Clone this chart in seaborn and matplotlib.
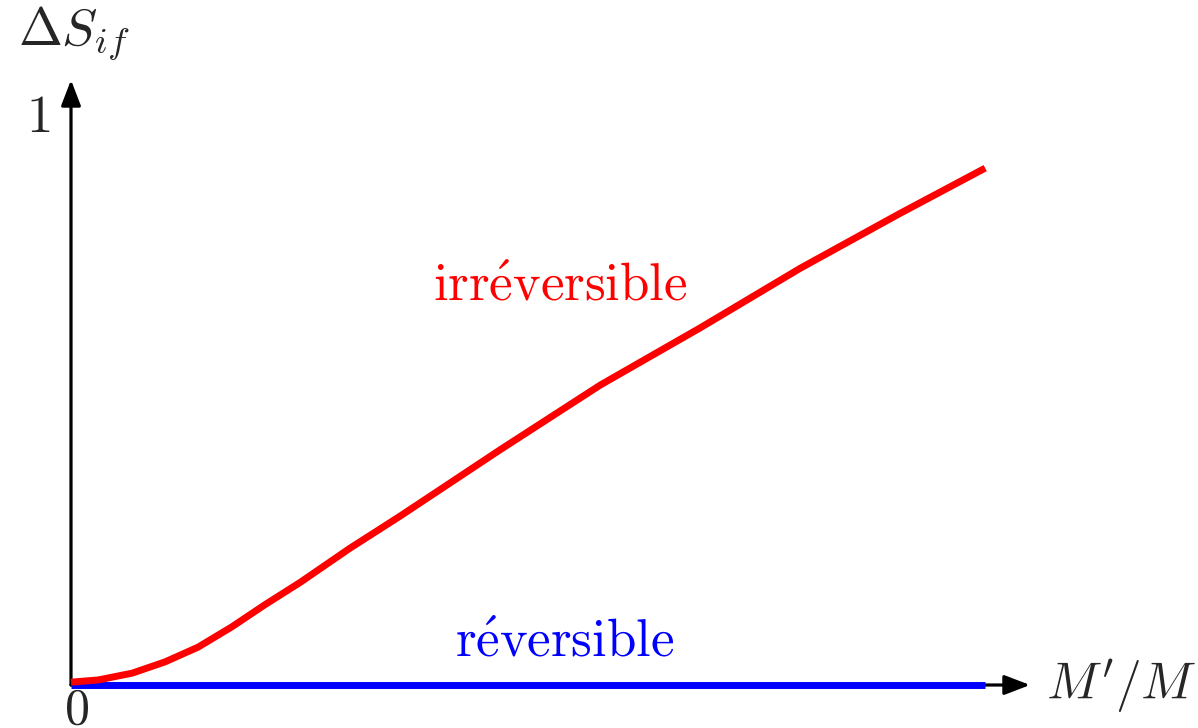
import matplotlib
matplotlib.use("Agg")
import matplotlib.pyplot as plt
import seaborn as sns
import pandas as pd

# Mass ratio M'/M and entropy change of the universe for each process
ratio = [0.0, 0.30, 0.67, 1.03, 1.39, 1.76, 2.12, 2.51, 3.05, 3.60, 4.15, 4.69,
         5.79, 6.88, 7.98, 9.07, 10.0]
ds_irreversible = [0.005, 0.009, 0.021, 0.041, 0.067, 0.103, 0.142, 0.182, 0.242,
                   0.299, 0.358, 0.416, 0.531, 0.632, 0.738, 0.835, 0.915]
ds_reversible = [0.0] * len(ratio)

x_label = r"$M'/M$"
y_label = r"$\Delta S_{if}$"
label_irr = r"$\mathrm{irr\acute{e}versible}$"
label_rev = r"$\mathrm{r\acute{e}versible}$"

sns.set_theme(style="white")
plt.rcParams["mathtext.fontset"] = "cm"
plt.rcParams["font.family"] = ["DejaVu Serif"]

W, H = 1198, 728
fig = plt.figure(figsize=(W / 100, H / 100), dpi=100)
x0, y0, x1, y1 = 71, 685, 1030, 80
ax = fig.add_axes([x0 / W, (H - y0) / H, (x1 - x0) / W, (y0 - y1) / H])
xmax, ymax = 10.49, 1.071
ax.set_xlim(0, xmax)
ax.set_ylim(0, ymax)
ax.axis("off")

df = pd.DataFrame({"ratio": ratio, "irr": ds_irreversible, "rev": ds_reversible})

# Axes drawn as arrows from the origin
arrow = dict(arrowstyle="-|>,head_length=1.3,head_width=0.5", color="black",
             lw=2.3, shrinkA=0, shrinkB=0)
ax.annotate("", xy=(xmax, 0), xytext=(0, 0), arrowprops=arrow, annotation_clip=False)
ax.annotate("", xy=(0, ymax), xytext=(0, 0), arrowprops=arrow, annotation_clip=False)

sns.lineplot(data=df, x="ratio", y="rev", color="#0000ff", lw=5, ax=ax,
             solid_capstyle="butt", zorder=3)
sns.lineplot(data=df, x="ratio", y="irr", color="#ff0000", lw=5, ax=ax,
             solid_capstyle="butt", solid_joinstyle="round", zorder=4)
for ln in ax.lines:
    ln.set_clip_on(False)

fs = 38
ax.text(5.35, 0.681, label_irr, color="#ff0000", fontsize=fs, ha="center", va="baseline")
ax.text(5.40, 0.050, label_rev, color="#0000ff", fontsize=fs, ha="center", va="baseline")
ax.text(-0.23, 0.979, "$1$", fontsize=fs, ha="right", va="baseline")
ax.text(0.055, -0.068, "$0$", fontsize=36, ha="center", va="baseline")
ax.text(10.66, -0.027, x_label, fontsize=37, ha="left", va="baseline")
ax.text(-0.58, 1.133, y_label, fontsize=fs, ha="left", va="baseline")

fig.savefig("out.png", dpi=100)
